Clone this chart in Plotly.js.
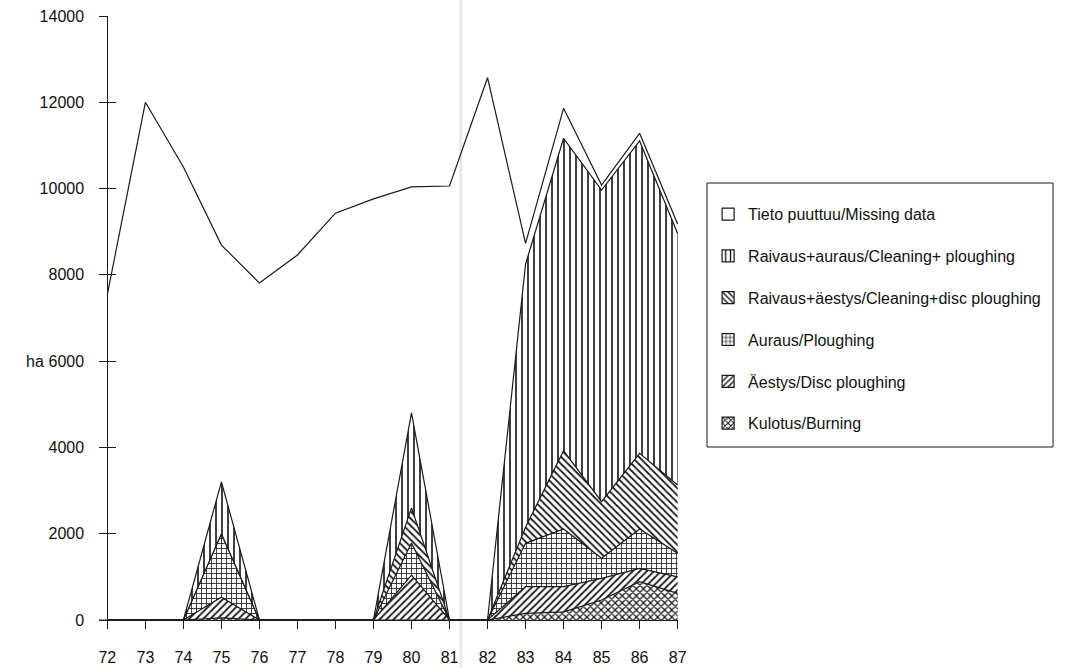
<!DOCTYPE html>
<html>
<head>
<meta charset="utf-8">
<script src="https://cdn.plot.ly/plotly-3.0.1.min.js"></script>
<style>html,body{margin:0;padding:0;background:#fff;}#chart{width:1066px;height:668px;}</style>
</head>
<body>
<div id="chart"></div>
<script>
// ---- data (ha) ----
const years = [72,73,74,75,76,77,78,79,80,81,82,83,84,85,86,87];
const yearLabels = ['72','73','74','75','76','77','78','79','80','81','82','83','84','85','86','87'];
const totalArea = [7550,12000,10500,8690,7810,8460,9430,9760,10040,10060,12570,8730,11860,10080,11280,9180];
const kulotus    = [0,0,0,50,0,0,0,0,0,0,0,155,190,464,888,618];
const aestys     = [0,0,0,480,0,0,0,0,1040,0,0,617,582,502,310,382];
const auraus     = [0,0,0,1470,0,0,0,0,745,0,0,1005,1338,464,911,546];
const raivAestys = [0,0,0,0,0,0,0,0,815,0,0,373,1815,1313,1755,1583];
const raivAuraus = [0,0,0,1200,0,0,0,0,2200,0,0,6100,7241,7224,7239,5831];
const yTicks = [0,2000,4000,6000,8000,10000,12000,14000];
const seriesNames = [
  'Tieto puuttuu/Missing data',
  'Raivaus+auraus/Cleaning+ ploughing',
  'Raivaus+äestys/Cleaning+disc ploughing',
  'Auraus/Ploughing',
  'Äestys/Disc ploughing',
  'Kulotus/Burning'
];

const ink = '#1a1a1a';
const patterns = {
  'Raivaus+auraus/Cleaning+ ploughing': {shape:'|', size:6, solidity:0.28},
  'Raivaus+äestys/Cleaning+disc ploughing': {shape:'\\', size:5, solidity:0.35},
  'Auraus/Ploughing': {shape:'+', size:5, solidity:0.3},
  'Äestys/Disc ploughing': {shape:'/', size:5, solidity:0.35},
  'Kulotus/Burning': {shape:'x', size:5, solidity:0.45}
};
function pat(name){
  const p = patterns[name];
  return {shape:p.shape, size:p.size, solidity:p.solidity, fgcolor:ink, bgcolor:'#ffffff', fillmode:'replace'};
}

const stackOrder = [
  [seriesNames[5], kulotus],
  [seriesNames[4], aestys],
  [seriesNames[3], auraus],
  [seriesNames[2], raivAestys],
  [seriesNames[1], raivAuraus]
];

const traces = [];
stackOrder.forEach(([name, vals]) => {
  traces.push({
    type:'scatter', mode:'lines', x:years, y:vals, name:name,
    stackgroup:'one', showlegend:false,
    line:{color:ink, width:1.2},
    fillcolor:'#ffffff',
    fillpattern: pat(name),
    hoverinfo:'skip'
  });
});
traces.push({
  type:'scatter', mode:'lines', x:years, y:totalArea, name:seriesNames[0],
  showlegend:false, line:{color:ink, width:1.2}, hoverinfo:'skip'
});

// legend proxies: zero-height bars (square patterned legend icons)
seriesNames.forEach((name, i) => {
  const m = {color:'#ffffff', line:{color:ink, width:1.2}};
  if (patterns[name]) m.pattern = pat(name);
  traces.push({type:'bar', x:[years[0]], y:[0], name:name, marker:m,
               legendgroup:'g'+i, showlegend:true, hoverinfo:'skip'});
});

// overlay axis so that y ticks cross the axis line
traces.push({type:'scatter', mode:'lines', x:[years[0]], y:[null], yaxis:'y2', showlegend:false, hoverinfo:'skip'});

const font = {family:'"Liberation Sans", Arial, Helvetica, sans-serif', color:'#111'};

const layout = {
  width:1066, height:668,
  margin:{l:99, r:388, t:16, b:48},
  paper_bgcolor:'#fff', plot_bgcolor:'rgba(0,0,0,0)',
  showlegend:true,
  font:Object.assign({size:16}, font),
  xaxis:{
    range:[71.78, 87.01], tickmode:'array', tickvals:years, ticktext:yearLabels,
    showgrid:false, zeroline:false, showline:true, linecolor:ink, linewidth:1,
    ticks:'outside', ticklen:8, tickcolor:ink, tickwidth:1, ticklabelstandoff:15,
    tickfont:Object.assign({size:16}, font), fixedrange:true
  },
  yaxis:{
    range:[0,14000], tickmode:'array', tickvals:yTicks, ticktext:yTicks.map(String),
    anchor:'free', position:0.0143,
    showgrid:false, zeroline:false, showline:true, linecolor:ink, linewidth:1,
    ticks:'outside', ticklen:8, tickcolor:ink, tickwidth:1, ticklabelstandoff:12,
    tickfont:Object.assign({size:16}, font), fixedrange:true
  },
  yaxis2:{
    range:[0,14000], tickmode:'array', tickvals:yTicks, overlaying:'y',
    anchor:'free', position:0.0143, side:'left',
    showgrid:false, zeroline:false, showline:false, showticklabels:false,
    ticks:'inside', ticklen:8, tickcolor:ink, tickwidth:1, fixedrange:true
  },
  legend:{
    x:1.052, xanchor:'left', y:0.70, yanchor:'top',
    bgcolor:'rgba(0,0,0,0)', borderwidth:0,
    traceorder:'grouped', tracegroupgap:18,
    font:Object.assign({size:16}, font)
  },
  shapes:[
    {type:'rect', xref:'paper', yref:'paper', x0:1.0501, x1:1.6477, y0:0.2864, y1:0.7235,
     line:{color:ink, width:1}, fillcolor:'rgba(0,0,0,0)'},
    {type:'line', xref:'paper', yref:'paper', x0:0.625, x1:0.625, y0:-0.08, y1:1.03,
     line:{color:'#e8e8e8', width:3}, layer:'below'}
  ],
  annotations:[
    {text:'ha', xref:'paper', yref:'paper', x:-0.11, y:0.4288, showarrow:false,
     xanchor:'center', yanchor:'middle', font:Object.assign({size:16}, font)}
  ]
};

Plotly.newPlot('chart', traces, layout, {displayModeBar:false, staticPlot:true});
</script>
</body>
</html>
